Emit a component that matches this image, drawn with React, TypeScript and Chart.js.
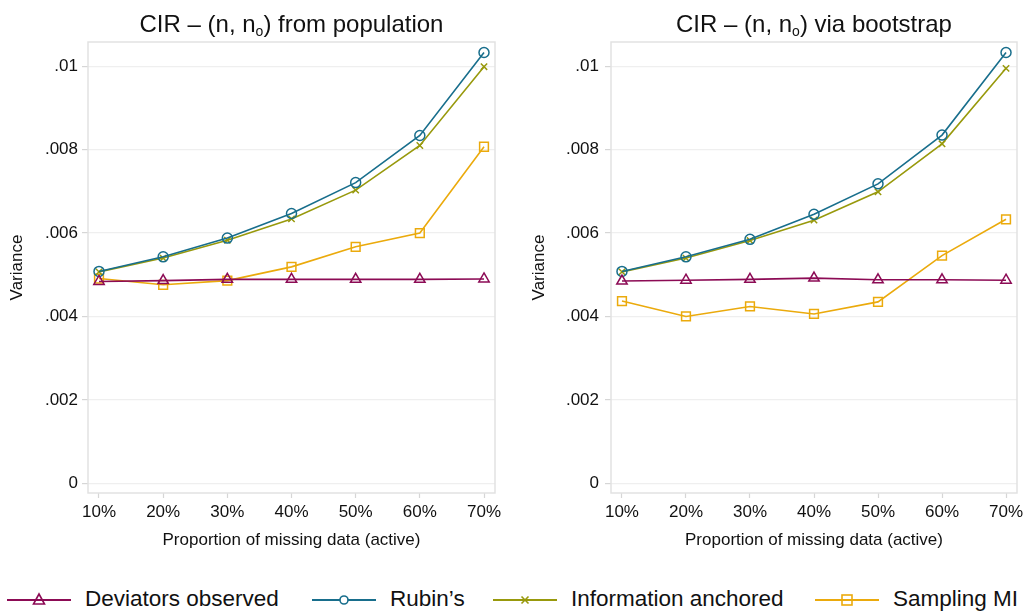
import React, { useEffect, useRef } from 'react';
import { Chart, registerables } from 'chart.js';

Chart.register(...registerables);

// ---------- data ----------
const categories = ['10%', '20%', '30%', '40%', '50%', '60%', '70%'];
const xValues = [10, 20, 30, 40, 50, 60, 70];
const yTickValues = [0, 0.002, 0.004, 0.006, 0.008, 0.01];
const yTickLabels = ['0', '.002', '.004', '.006', '.008', '.01'];
const seriesNames = ['Deviators observed', 'Rubin\u2019s', 'Information anchored', 'Sampling MI'];

const popDeviators = [0.00484, 0.00486, 0.00489, 0.00489, 0.00489, 0.00489, 0.0049];
const popRubins = [0.00508, 0.00543, 0.00588, 0.00647, 0.00721, 0.00834, 0.01033];
const popInfo = [0.00507, 0.0054, 0.00583, 0.00634, 0.00703, 0.0081, 0.00999];
const popSampling = [0.00491, 0.00476, 0.00486, 0.00519, 0.00567, 0.006, 0.00807];

const bootDeviators = [0.00485, 0.00487, 0.00489, 0.00492, 0.00488, 0.00488, 0.00487];
const bootRubins = [0.00508, 0.00543, 0.00585, 0.00645, 0.00718, 0.00835, 0.01033];
const bootInfo = [0.00507, 0.0054, 0.00582, 0.00631, 0.00699, 0.00814, 0.00995];
const bootSampling = [0.00437, 0.004, 0.00424, 0.00406, 0.00435, 0.00546, 0.00633];

// ---------- styles ----------
const FONT = '"Liberation Sans", Arial, Helvetica, sans-serif';
const colors = ['#8c0b55', '#186e8c', '#98990c', '#ebaa0c'];
const pointStyles = ['triangle', 'circle', 'crossRot', 'rect'];
const pointRadii = [6, 5, 4.5, 6.2];
const FRAME = '#e2e2e2';

const framePlugin = {
  id: 'frame',
  beforeDatasetsDraw(chart: any) {
    const { ctx, chartArea } = chart;
    ctx.save();
    ctx.strokeStyle = FRAME;
    ctx.lineWidth = 1.5;
    ctx.strokeRect(chartArea.left, chartArea.top, chartArea.right - chartArea.left, chartArea.bottom - chartArea.top);
    ctx.restore();
  },
};

type PanelProps = {
  left: number;
  width: number;
  yAxisWidth: number;
  yTitlePad: number;
  yTickPad: number;
  rightPad: number;
  series: number[][];
};

const CANVAS_H = 560;

function Panel({ left, width, yAxisWidth, yTitlePad, yTickPad, rightPad, series }: PanelProps) {
  const ref = useRef<HTMLCanvasElement | null>(null);
  useEffect(() => {
    if (!ref.current) return;
    const chart = new Chart(ref.current, {
      type: 'line',
      data: {
        datasets: series.map((vals, i) => ({
          label: seriesNames[i],
          data: vals.map((v, j) => ({ x: xValues[j], y: v })),
          borderColor: colors[i],
          borderWidth: 1.6,
          backgroundColor: 'rgba(0,0,0,0)',
          pointStyle: pointStyles[i] as any,
          pointRadius: pointRadii[i],
          pointBorderWidth: 1.5,
          pointBorderColor: colors[i],
          pointBackgroundColor: 'rgba(0,0,0,0)',
          tension: 0,
          fill: false,
        })),
      },
      options: {
        animation: false,
        responsive: false,
        maintainAspectRatio: false,
        devicePixelRatio: 1,
        layout: { padding: { top: 42, right: rightPad, left: 0, bottom: 0 } },
        plugins: { legend: { display: false }, tooltip: { enabled: false }, title: { display: false } },
        scales: {
          x: {
            type: 'linear',
            min: 8.286,
            max: 71.714,
            afterBuildTicks: (s: any) => {
              s.ticks = xValues.map((v) => ({ value: v }));
            },
            afterFit: (s: any) => {
              s.height = CANVAS_H - 493;
              s.paddingLeft = 0;
              s.paddingRight = 0;
            },
            ticks: {
              autoSkip: false,
              maxRotation: 0,
              padding: 4,
              color: '#111',
              font: { family: FONT, size: 17 },
              callback: (v: any) => categories[xValues.indexOf(Number(v))] ?? '',
            },
            grid: { drawOnChartArea: false, drawTicks: true, tickLength: 5, tickColor: '#d6d6d6', tickWidth: 1.2 },
            border: { display: false },
            title: {
              display: true,
              text: 'Proportion of missing data (active)',
              color: '#111',
              font: { family: FONT, size: 17 },
              padding: { top: 0, bottom: 9 },
            },
          },
          y: {
            type: 'linear',
            min: -0.000233,
            max: 0.010582,
            afterBuildTicks: (s: any) => {
              s.ticks = yTickValues.map((v) => ({ value: v }));
            },
            afterFit: (s: any) => {
              s.width = yAxisWidth;
              s.paddingTop = 0;
              s.paddingBottom = 0;
            },
            ticks: {
              padding: yTickPad,
              color: '#111',
              font: { family: FONT, size: 17 },
              callback: (v: any) => {
                const idx = yTickValues.findIndex((t) => Math.abs(t - Number(v)) < 1e-9);
                return idx >= 0 ? yTickLabels[idx] : '';
              },
            },
            grid: { color: '#efefef', lineWidth: 1.2, drawTicks: true, tickLength: 6, tickColor: '#d6d6d6' },
            border: { display: false },
            title: {
              display: true,
              text: 'Variance',
              color: '#111',
              font: { family: FONT, size: 17 },
              padding: { top: yTitlePad, bottom: 0 },
            },
          },
        },
      },
      plugins: [framePlugin],
    } as any);
    return () => chart.destroy();
  }, []);
  return (
    <canvas
      ref={ref}
      width={width}
      height={CANVAS_H}
      style={{ position: 'absolute', left, top: 0, width, height: CANVAS_H }}
    />
  );
}

function LegendIcon({ i }: { i: number }) {
  const c = colors[i];
  const cx = 32;
  const cy = 10;
  let marker: React.ReactNode = null;
  if (i === 0) {
    marker = <polygon points={`${cx},${cy - 6} ${cx + 5.5},${cy + 4} ${cx - 5.5},${cy + 4}`} fill="none" stroke={c} strokeWidth={1.6} />;
  } else if (i === 1) {
    marker = <circle cx={cx} cy={cy} r={4} fill="white" stroke={c} strokeWidth={1.6} />;
  } else if (i === 2) {
    marker = (
      <g stroke={c} strokeWidth={1.6}>
        <line x1={cx - 3.5} y1={cy - 3.5} x2={cx + 3.5} y2={cy + 3.5} />
        <line x1={cx - 3.5} y1={cy + 3.5} x2={cx + 3.5} y2={cy - 3.5} />
      </g>
    );
  } else {
    marker = <rect x={cx - 5} y={cy - 5} width={10} height={10} fill="none" stroke={c} strokeWidth={1.6} />;
  }
  return (
    <svg width={64} height={20} style={{ position: 'absolute', left: 0, top: 0 }}>
      <line x1={0} y1={cy} x2={64} y2={cy} stroke={c} strokeWidth={2} />
      {marker}
    </svg>
  );
}

const legendX = [7, 312, 493, 815];

function Title({ left, width, main, rest }: { left: number; width: number; main: string; rest: string }) {
  return (
    <div
      style={{
        position: 'absolute',
        left,
        top: 12,
        width,
        textAlign: 'center',
        fontFamily: FONT,
        fontSize: 24,
        lineHeight: '24px',
        color: '#111',
        whiteSpace: 'nowrap',
      }}
    >
      {main}
      <span style={{ fontSize: 14, position: 'relative', top: 4 }}>o</span>
      {rest}
    </div>
  );
}

export default function App() {
  return (
    <div style={{ position: 'fixed', left: 0, top: 0, width: 1025, height: 612, background: 'white', overflow: 'hidden' }}>
      <Panel left={0} width={512} yAxisWidth={88} yTitlePad={7} yTickPad={4} rightPad={17} series={[popDeviators, popRubins, popInfo, popSampling]} />
      <Panel left={512} width={513} yAxisWidth={99} yTitlePad={17} yTickPad={6} rightPad={8} series={[bootDeviators, bootRubins, bootInfo, bootSampling]} />
      <Title left={88} width={407} main={'CIR \u2013 (n, n'} rest={') from population'} />
      <Title left={611} width={406} main={'CIR \u2013 (n, n'} rest={') via bootstrap'} />
      {seriesNames.map((name, i) => (
        <div key={name} style={{ position: 'absolute', left: legendX[i], top: 590, height: 20 }}>
          <LegendIcon i={i} />
          <span
            style={{
              position: 'absolute',
              left: 78,
              top: -4,
              fontFamily: FONT,
              fontSize: 22.5,
              lineHeight: '26px',
              color: '#111',
              whiteSpace: 'nowrap',
            }}
          >
            {name}
          </span>
        </div>
      ))}
    </div>
  );
}
